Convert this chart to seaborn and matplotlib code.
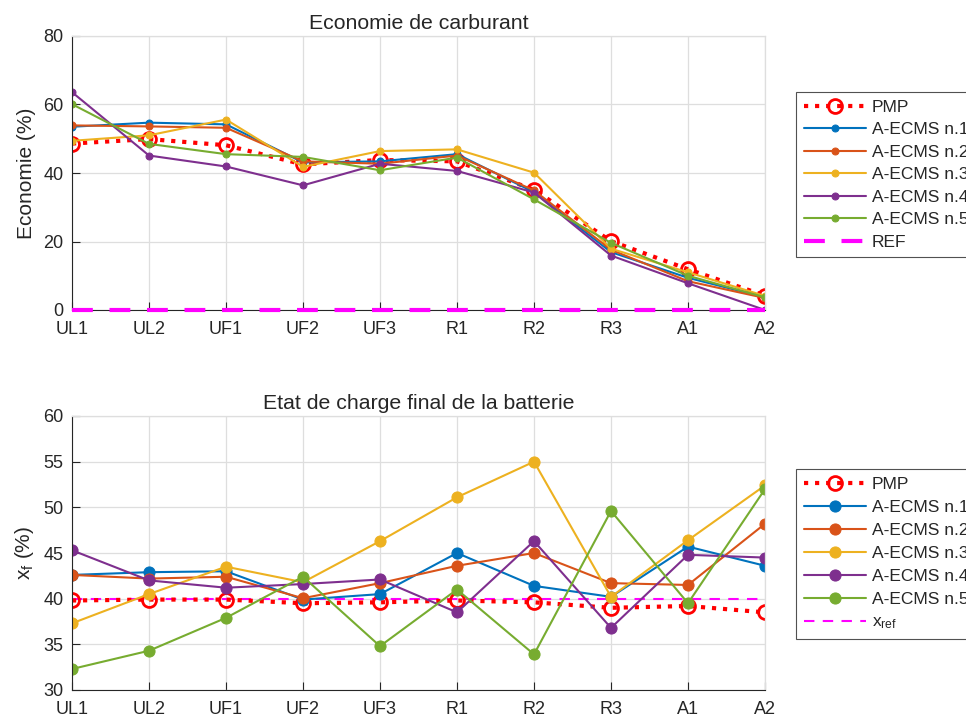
import matplotlib
matplotlib.use("Agg")
import matplotlib.pyplot as plt
import seaborn as sns
import numpy as np
import pandas as pd

categories = ["UL1", "UL2", "UF1", "UF2", "UF3", "R1", "R2", "R3", "A1", "A2"]

# Top: Economie de carburant (%)
eco_pmp = [48.6, 49.9, 48.1, 42.5, 43.8, 43.4, 35.1, 20.1, 11.9, 4.2]
eco_n1 = [53.5, 54.7, 54.2, 43.1, 43.4, 45.5, 34.4, 16.9, 9.4, 3.7]
eco_n2 = [53.9, 53.6, 53.2, 43.4, 42.7, 45.1, 34.9, 17.6, 8.4, 3.5]
eco_n3 = [49.4, 51.0, 55.6, 41.8, 46.4, 46.9, 40.1, 17.9, 11.0, 4.1]
eco_n4 = [63.6, 45.1, 41.9, 36.4, 42.7, 40.6, 34.3, 15.9, 7.8, 0.0]
eco_n5 = [60.1, 48.5, 45.5, 44.7, 40.8, 44.5, 32.3, 19.6, 10.0, 3.7]
eco_ref = [0, 0, 0, 0, 0, 0, 0, 0, 0, 0]

# Bottom: Etat de charge final (%)
soc_pmp = [39.8, 39.9, 39.9, 39.5, 39.6, 39.8, 39.6, 39.0, 39.2, 38.5]
soc_n1 = [42.6, 42.9, 43.0, 39.9, 40.5, 45.0, 41.4, 40.2, 45.7, 43.6]
soc_n2 = [42.6, 42.2, 42.4, 40.05, 41.7, 43.6, 45.0, 41.7, 41.5, 48.2]
soc_n3 = [37.3, 40.5, 43.5, 41.8, 46.3, 51.1, 55.0, 40.2, 46.4, 52.4]
soc_n4 = [45.3, 42.0, 41.2, 41.6, 42.1, 38.5, 46.3, 36.8, 44.8, 44.5]
soc_n5 = [32.3, 34.3, 37.9, 42.4, 34.8, 41.0, 33.9, 49.6, 39.5, 52.0]
soc_ref = [40, 40, 40, 40, 40, 40, 40, 40, 40, 40]

names = ["A-ECMS n.1", "A-ECMS n.2", "A-ECMS n.3", "A-ECMS n.4", "A-ECMS n.5"]
colors = ["#0072BD", "#D95319", "#EDB120", "#7E2F8E", "#77AC30"]

sns.set_theme(style="white")
plt.rcParams["font.family"] = ["Liberation Sans", "DejaVu Sans"]
plt.rcParams["mathtext.fontset"] = "custom"
plt.rcParams["mathtext.rm"] = "Liberation Sans"
plt.rcParams["mathtext.it"] = "Liberation Sans"

fig = plt.figure(figsize=(9.66, 7.19), dpi=100)
W, H = 966, 719
ax1 = fig.add_axes([72 / W, 1 - 310 / H, 693 / W, 274 / H])
ax2 = fig.add_axes([72 / W, 1 - 690 / H, 693 / W, 274 / H])

x = np.arange(len(categories))
TXT = "#262626"


def style_axes(ax, ylim, yticks):
    ax.set_xlim(0, len(categories) - 1)
    ax.set_ylim(*ylim)
    ax.set_yticks(yticks)
    ax.set_xticks(x)
    ax.set_xticklabels(categories)
    ax.grid(True, color="#DEDEDE", linewidth=0.9)
    ax.set_axisbelow(True)
    for s in ["left", "bottom"]:
        ax.spines[s].set_color(TXT)
        ax.spines[s].set_linewidth(0.8)
    for s in ["top", "right"]:
        ax.spines[s].set_color("#DEDEDE")
        ax.spines[s].set_linewidth(0.9)
    ax.tick_params(axis="both", which="both", direction="in", length=6,
                   width=0.8, color=TXT, labelsize=13,
                   labelcolor=TXT, bottom=True, left=True,
                   top=False, right=False)
    ax.tick_params(axis="x", pad=8)
    ax.tick_params(axis="y", pad=6)


# Top chart
sns.lineplot(x=x, y=eco_pmp, ax=ax1, color="red", linestyle=":", linewidth=3,
             marker="o", markersize=10, markerfacecolor="none",
             markeredgecolor="red", markeredgewidth=2, label="PMP")
for vals, name, c in zip([eco_n1, eco_n2, eco_n3, eco_n4, eco_n5], names, colors):
    sns.lineplot(x=x, y=vals, ax=ax1, color=c, linewidth=1.5, marker="o",
                 markersize=5, markeredgecolor=c, markerfacecolor=c, label=name)
sns.lineplot(x=x, y=eco_ref, ax=ax1, color="#FF00FF", linestyle=(0, (5, 4)),
             linewidth=3, label="REF", clip_on=False, zorder=5)
style_axes(ax1, (0, 80), [0, 20, 40, 60, 80])
ax1.set_title("Economie de carburant", fontsize=15.3, color=TXT, pad=5)
ax1.set_ylabel("Economie (%)", fontsize=15, color=TXT, labelpad=5)
ax1.set_xlabel("")

# Bottom chart
sns.lineplot(x=x, y=soc_pmp, ax=ax2, color="red", linestyle=":", linewidth=3,
             marker="o", markersize=10, markerfacecolor="none",
             markeredgecolor="red", markeredgewidth=2, label="PMP")
for vals, name, c in zip([soc_n1, soc_n2, soc_n3, soc_n4, soc_n5], names, colors):
    sns.lineplot(x=x, y=vals, ax=ax2, color=c, linewidth=1.5, marker="o",
                 markersize=8, markeredgecolor=c, markerfacecolor=c, label=name)
sns.lineplot(x=x, y=soc_ref, ax=ax2, color="#FF00FF", linestyle=(0, (5, 4)),
             linewidth=1.5, label="x$_{\\mathrm{ref}}$", zorder=1.9)
style_axes(ax2, (30, 60), [30, 35, 40, 45, 50, 55, 60])
ax2.set_title("Etat de charge final de la batterie", fontsize=15.3,
              color=TXT, pad=5)
ax2.set_ylabel("x$_{\\mathrm{f}}$ (%)", fontsize=15, color=TXT, labelpad=5)
ax2.set_xlabel("")

for ax, top, sp in [(ax1, 92, 0.42), (ax2, 469, 0.45)]:
    leg = ax.legend(loc="upper left", bbox_to_anchor=(796 / W, 1 - top / H),
                    bbox_transform=fig.transFigure, fontsize=12.5, frameon=True,
                    fancybox=False, edgecolor=TXT, handlelength=3.6,
                    borderaxespad=0, borderpad=0.45, labelspacing=sp,
                    handletextpad=0.3)
    leg.get_frame().set_linewidth(0.8)
    for t in leg.get_texts():
        t.set_color(TXT)

fig.savefig("out.png", dpi=100)
